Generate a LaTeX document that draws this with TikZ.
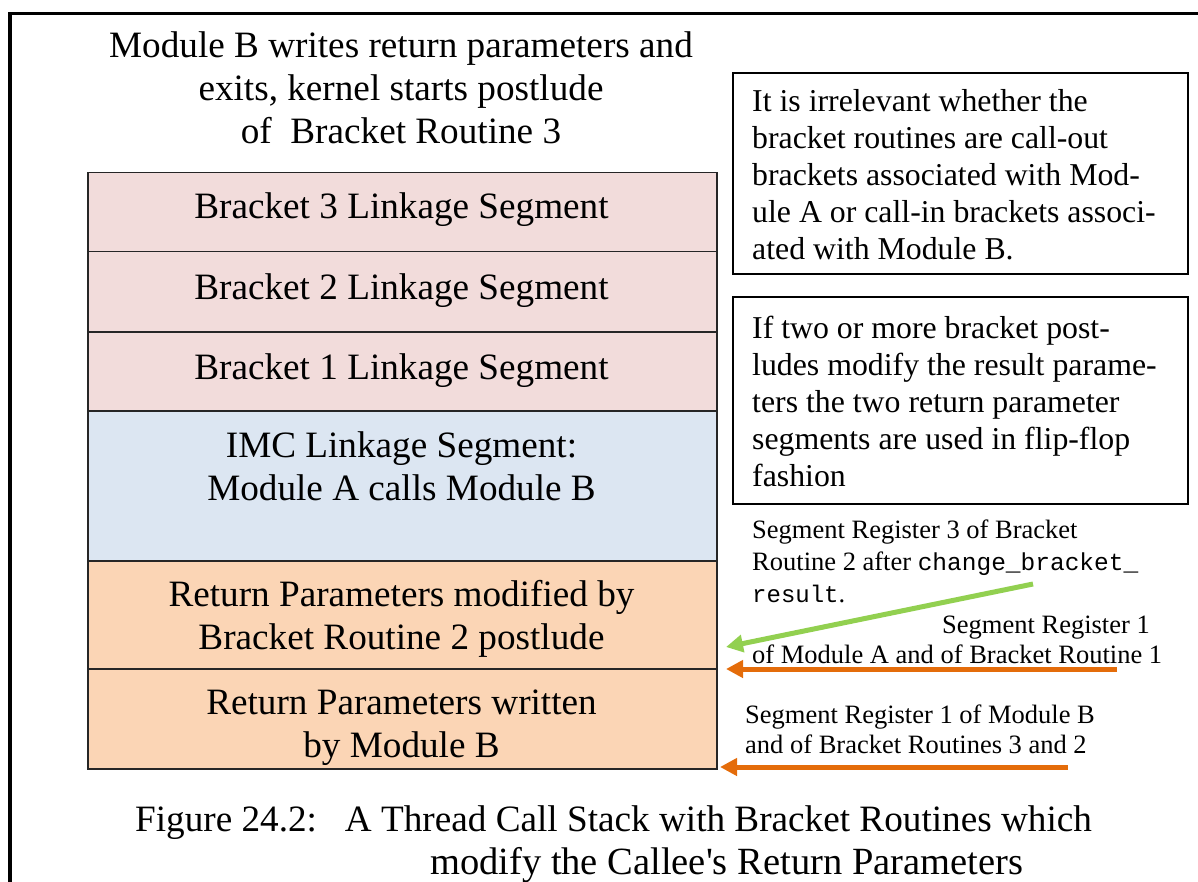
\documentclass[tikz,border=0pt]{standalone}
\usepackage{fontspec}
\setmainfont{Liberation Serif}
\setmonofont{Liberation Mono}
\usetikzlibrary{arrows.meta,calc}

\definecolor{linkpink}{HTML}{F2DCDB}
\definecolor{imcblue}{HTML}{DCE6F2}
\definecolor{retorange}{HTML}{FBD5B5}
\definecolor{ptrgreen}{HTML}{92D050}
\definecolor{ptrorange}{HTML}{E46C0A}

\begin{document}
\begin{tikzpicture}[x=1pt,y=-1pt,
  segbox/.style={draw=black!85,line width=1.5pt,minimum width=629pt,
    inner sep=0pt,anchor=north west},
  seglabel/.style={anchor=base,inner sep=0pt,align=center,
    font=\fontsize{37.2}{43}\selectfont},
  notebox/.style={draw=black,line width=2pt,minimum width=455pt,
    inner sep=0pt,anchor=north west},
  notetext/.style={anchor=base west,inner sep=0pt,align=left,
    font=\fontsize{31.8}{37}\selectfont},
  regtext/.style={anchor=base west,inner sep=0pt,align=left,
    font=\fontsize{26.5}{31}\selectfont},
  ptr/.style={line width=5pt,-{Triangle[width=17pt,length=17pt]}},
]
\useasboundingbox (0,0) rectangle (1198,882);

% outer frame (left and top edges)
\draw[line width=3.5pt] (10,882) -- (10,13.5) -- (1198,13.5);

% heading (anchored at the baseline of its last line)
\node[anchor=base,inner sep=0pt,align=center,
  font=\fontsize{37.2}{43}\selectfont] (head) at (401,144)
  {Module B writes return parameters and\\
   exits, kernel starts postlude\\
   of\ \ Bracket Routine 3};

% call stack segments
\node[segbox,fill=linkpink,minimum height=79pt]  (b3)  at (87,172) {};
\node[segbox,fill=linkpink,minimum height=80pt]  (b2)  at (87,251) {};
\node[segbox,fill=linkpink,minimum height=79pt]  (b1)  at (87,331) {};
\node[segbox,fill=imcblue,minimum height=150pt]  (imc) at (87,410) {};
\node[segbox,fill=retorange,minimum height=108pt] (rm) at (87,560) {};
\node[segbox,fill=retorange,minimum height=100pt] (rw) at (87,668) {};

\node[seglabel] (b3t)  at (401.5,219) {Bracket 3 Linkage Segment};
\node[seglabel] (b2t)  at (401.5,299) {Bracket 2 Linkage Segment};
\node[seglabel] (b1t)  at (401.5,379) {Bracket 1 Linkage Segment};
\node[seglabel] (imct) at (401.5,500) {IMC Linkage Segment:\\Module A calls Module B};
\node[seglabel] (rmt)  at (401.5,649) {Return Parameters modified by\\Bracket Routine 2 postlude};
\node[seglabel] (rwt)  at (401.5,757) {Return Parameters written\\by Module B};

% remarks
\node[notebox,minimum height=201pt] (n1) at (732,72) {};
\node[notetext] (n1t) at (752,260)
  {It is irrelevant whether the\\
   bracket routines are call-out\\
   brackets associated with Mod-\\
   ule A or call-in brackets associ-\\
   ated with Module B.};

\node[notebox,minimum height=207pt] (n2) at (732,296) {};
\node[notetext] (n2t) at (752,486)
  {If two or more bracket post-\\
   ludes modify the result parame-\\
   ters the two return parameter\\
   segments are used in flip-flop\\
   fashion};

% segment register labels
\node[regtext,font=\fontsize{26.5}{32}\selectfont] (r3) at (752,602)
  {Segment Register 3 of Bracket\\
   Routine 2 after {\fontsize{24.5}{32}\ttfamily change\_bracket\_}\\
   {\fontsize{24}{32}\ttfamily result}.};
\node[regtext,font=\fontsize{26.5}{30}\selectfont] (r1a) at (752,663)
  {\hspace*{190pt}Segment Register 1\\
   of Module A and of Bracket Routine 1};
\node[regtext,font=\fontsize{26.5}{30}\selectfont] (r1b) at (745,753)
  {Segment Register 1 of Module B\\
   and of Bracket Routines 3 and 2};

% register pointers
\coordinate (g0) at (1033,584);
\coordinate (g1) at (726,647);
\coordinate (o0) at (1117,669);
\coordinate (o1) at (726,669);
\coordinate (p0) at (1068,767);
\coordinate (p1) at (720,767);
\draw[ptr,draw=ptrgreen,fill=ptrgreen] (g0) -- (g1);
\draw[ptr,draw=ptrorange,fill=ptrorange] (o0) -- (o1);
\draw[ptr,draw=ptrorange,fill=ptrorange] (p0) -- (p1);

% caption
\node[anchor=base west,inner sep=0pt,align=left,
  font=\fontsize{37.2}{43}\selectfont] (cap) at (135,874)
  {Figure 24.2:\ \ \ A Thread Call Stack with Bracket Routines which\\
   \hspace*{295pt}{\fontsize{38.5}{43}\selectfont modify the Callee\textquotesingle s Return Parameters}};
\end{tikzpicture}
\end{document}
